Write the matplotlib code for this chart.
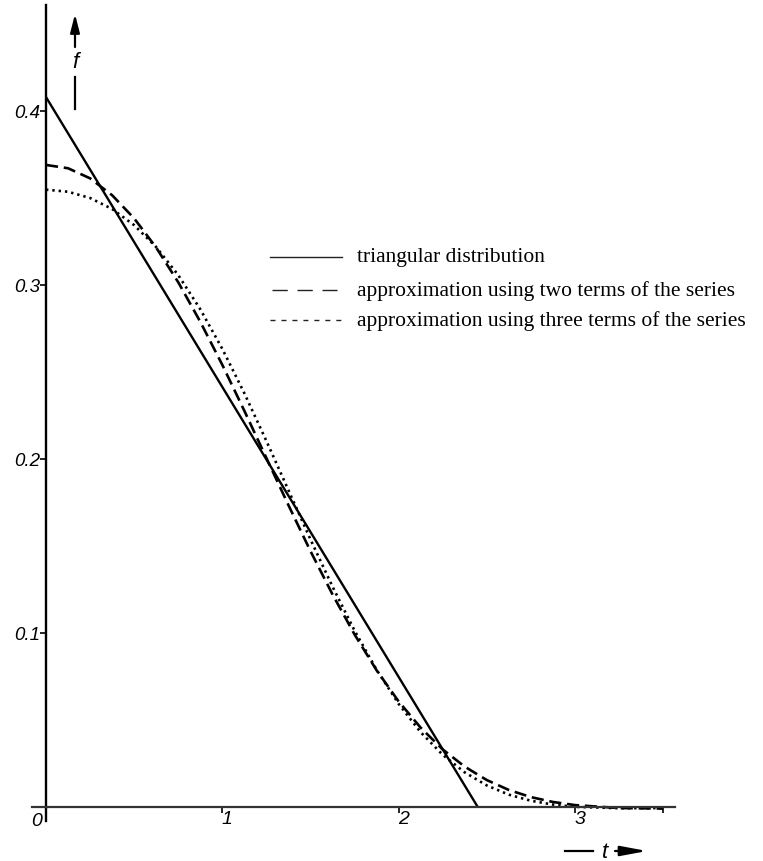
import matplotlib
matplotlib.use('Agg')
import matplotlib.pyplot as plt
from matplotlib.lines import Line2D
from matplotlib.transforms import ScaledTranslation

# ---------------- data ----------------
t_tri = [0.0, 2.449]
f_tri = [0.408, 0.0]

t_approx = [0.0, 0.125, 0.25, 0.375, 0.5, 0.625, 0.75, 0.875, 1.0, 1.125, 1.25,
            1.375, 1.5, 1.625, 1.75, 1.875, 2.0, 2.125, 2.25, 2.375, 2.5, 2.625,
            2.75, 2.875, 3.0, 3.25, 3.5]
f_two = [0.3690, 0.3671, 0.3613, 0.3516, 0.3383, 0.3215, 0.3016, 0.2789, 0.2541,
         0.2277, 0.2006, 0.1735, 0.1471, 0.1222, 0.0992, 0.0786, 0.0607, 0.0456,
         0.0331, 0.0232, 0.0155, 0.0098, 0.0057, 0.0029, 0.0011, -0.0006, -0.0009]
f_three = [0.3548, 0.3536, 0.3500, 0.3437, 0.3344, 0.3218, 0.3057, 0.2861, 0.2633,
           0.2378, 0.2104, 0.1821, 0.1538, 0.1267, 0.1014, 0.0789, 0.0593, 0.0430,
           0.0300, 0.0199, 0.0124, 0.0071, 0.0036, 0.0014, 0.0001, -0.0007, -0.0006]

y_ticks = [0.1, 0.2, 0.3, 0.4]
y_ticklabels = ['0.1', '0.2', '0.3', '0.4']
x_ticks = [1, 2, 3, 3.5]
x_ticklabels = ['1', '2', '3', '']

legend_labels = ['triangular distribution',
                 'approximation using two terms of the series',
                 'approximation using three terms of the series']

# ---------------- layout ----------------
W, H = 763, 862
fig = plt.figure(figsize=(W / 100, H / 100), dpi=100)
fig.patch.set_facecolor('white')

xmin, xmax = -0.08, 3.57
ymin, ymax = -0.008, 0.461
x0px, xunit = 46.0, 176.3
y0px, yunit = 808.0, 1740.0
left_px = x0px + xmin * xunit
right_px = x0px + xmax * xunit
bot_px = y0px - ymin * yunit
top_px = y0px - ymax * yunit
ax = fig.add_axes([left_px / W, (H - bot_px) / H,
                   (right_px - left_px) / W, (bot_px - top_px) / H])
ax.set_xlim(xmin, xmax)
ax.set_ylim(ymin, ymax)
ax.set_facecolor('none')

for s in ['top', 'right']:
    ax.spines[s].set_visible(False)
ax.spines['left'].set_position(('data', 0))
ax.spines['bottom'].set_position(('data', 0))
ax.spines['left'].set_linewidth(1.7)
ax.spines['bottom'].set_linewidth(1.6)
ax.spines['bottom'].set_color('#333333')

sans_it = dict(family='Liberation Sans', style='italic')

ax.set_yticks(y_ticks)
ax.set_yticklabels(y_ticklabels, fontsize=13.5, **sans_it)
ax.set_xticks(x_ticks)
ax.set_xticklabels(x_ticklabels, fontsize=14, **sans_it)
ax.tick_params(axis='y', direction='out', length=4, width=1.2, pad=0.5)
ax.tick_params(axis='x', direction='out', length=4.5, width=1.2, pad=-2.5)
for lab in ax.get_xticklabels():
    lab.set_transform(lab.get_transform() + ScaledTranslation(3.5 / 72, 0, fig.dpi_scale_trans))

ax.annotate('0', xy=(0, 0), xytext=(-7, -9.5), textcoords='offset points',
            ha='center', va='center', fontsize=14, **sans_it)

# ---------------- curves ----------------
ax.plot(t_tri, f_tri, color='black', lw=1.7, solid_capstyle='butt')
ax.plot(t_approx, f_two, color='black', lw=1.9, dashes=(4.6, 2.2))
ax.plot(t_approx, f_three, color='black', lw=1.9, dashes=(0.9, 1.5))

# ---------------- legend (manual) ----------------
rows_y = [258, 291, 321]
row_x = [(270, 342), (272, 337), (270, 342)]
styles = [dict(), dict(dashes=(11, 7)), dict(dashes=(3.6, 4.3))]
for yy, (xa, xb), lab, st in zip(rows_y, row_x, legend_labels, styles):
    fig.add_artist(Line2D([xa / W, xb / W], [1 - yy / H, 1 - yy / H],
                          transform=fig.transFigure, color='#222222', lw=1.0, **st))
    fig.text(357 / W, 1 - yy / H, lab, ha='left', va='center',
             family='Liberation Serif', fontsize=15.5)

# ---------------- axis arrows ----------------
fx = 75
ax_arrow = dict(xycoords='figure pixels', textcoords='figure pixels')
ax.annotate('', xy=(fx, H - 15), xytext=(fx, H - 48), annotation_clip=False,
            arrowprops=dict(arrowstyle='-|>,head_length=1.1,head_width=0.28',
                            lw=1.6, color='black', mutation_scale=10,
                            shrinkA=0, shrinkB=0), **ax_arrow)
fig.text(fx / W, 1 - 63 / H, 'f', ha='center', va='center', fontsize=16, **sans_it)
fig.add_artist(Line2D([fx / W, fx / W], [1 - 78 / H, 1 - 110 / H],
                      transform=fig.transFigure, color='black', lw=1.6))

ty = 852
fig.add_artist(Line2D([565 / W, 593 / W], [1 - ty / H, 1 - ty / H],
                      transform=fig.transFigure, color='black', lw=1.6))
fig.text(605 / W, 1 - (ty + 1) / H, 't', ha='center', va='center', fontsize=16, **sans_it)
ax.annotate('', xy=(647, H - ty), xytext=(615, H - ty), annotation_clip=False,
            arrowprops=dict(arrowstyle='-|>,head_length=1.6,head_width=0.3',
                            lw=1.6, color='black', mutation_scale=10,
                            shrinkA=0, shrinkB=0), **ax_arrow)

fig.savefig('out.png', dpi=100, facecolor='white')
